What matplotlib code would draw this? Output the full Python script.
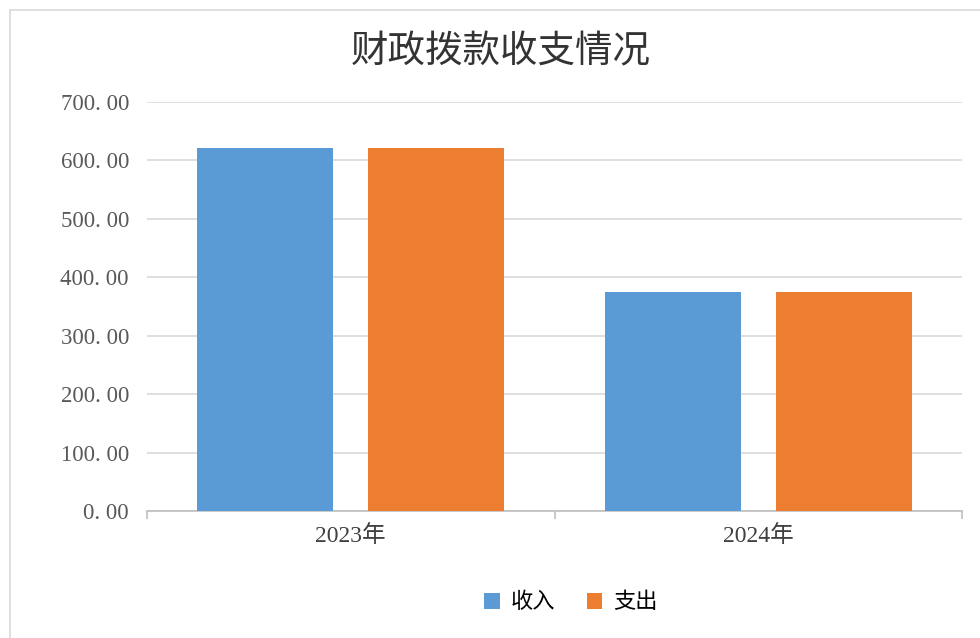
import matplotlib.pyplot as plt
import numpy as np
from matplotlib.patches import Rectangle

# data
categories = ['2023年', '2024年']
series_names = ['收入', '支出']
income = [621.0, 375.0]
expense = [621.0, 375.0]
colors = ['#5B9BD5', '#ED7D31']

plt.rcParams['font.family'] = ['Liberation Serif', 'Noto Sans CJK SC', 'DejaVu Sans']

fig = plt.figure(figsize=(9.8, 6.38), dpi=100)
ax = fig.add_axes([147 / 980, 127 / 638, 815 / 980, 409 / 638])

# outer chart border (light gray)
fig.patches.append(Rectangle((10 / 980, -0.1), 1.2, (638 - 10) / 638 + 0.1,
                             transform=fig.transFigure, fill=False,
                             edgecolor='#d9d9d9', linewidth=1.2))

x = np.arange(len(categories))
w = 0.333
off = 0.21
ax.bar(x - off, income, width=w, color=colors[0], label=series_names[0], zorder=3)
ax.bar(x + off, expense, width=w, color=colors[1], label=series_names[1], zorder=3)

ax.set_xlim(-0.5, len(categories) - 0.5)
ax.set_ylim(0, 700)
ax.set_yticks(np.arange(0, 701, 100))
ax.set_yticklabels([f'{v:.2f}'.replace('.', '. ') for v in range(0, 701, 100)],
                   fontsize=16.5, color='#595959')
ax.yaxis.grid(True, color='#d9d9d9', linewidth=1.2, zorder=0)
ax.tick_params(axis='y', length=0, pad=13)

ax.set_xticks(x)
ax.set_xticklabels(categories, fontsize=17, color='#404040')
ax.tick_params(axis='x', length=0, pad=10)
# category separator ticks below the axis
ax.set_xticks([-0.5, 0.5, 1.5], minor=True)
ax.tick_params(axis='x', which='minor', length=6, color='#bfbfbf', width=1.2)

for s in ['top', 'right', 'left']:
    ax.spines[s].set_visible(False)
ax.spines['bottom'].set_color('#bfbfbf')
ax.spines['bottom'].set_linewidth(1.2)

fig.text(501 / 980, 1 - 52 / 638, '财政拨款收支情况', ha='center', va='center',
         fontsize=27, color='#333333', family=['Noto Sans CJK SC'])

ax.legend(loc='center', bbox_to_anchor=(571 / 980, 1 - 602 / 638),
          bbox_transform=fig.transFigure, ncol=2, frameon=False,
          handlelength=0.7, handleheight=0.7, handletextpad=0.5,
          columnspacing=1.4, prop={'family': ['Noto Sans CJK SC'], 'size': 16})

fig.savefig('out.png', dpi=100)
